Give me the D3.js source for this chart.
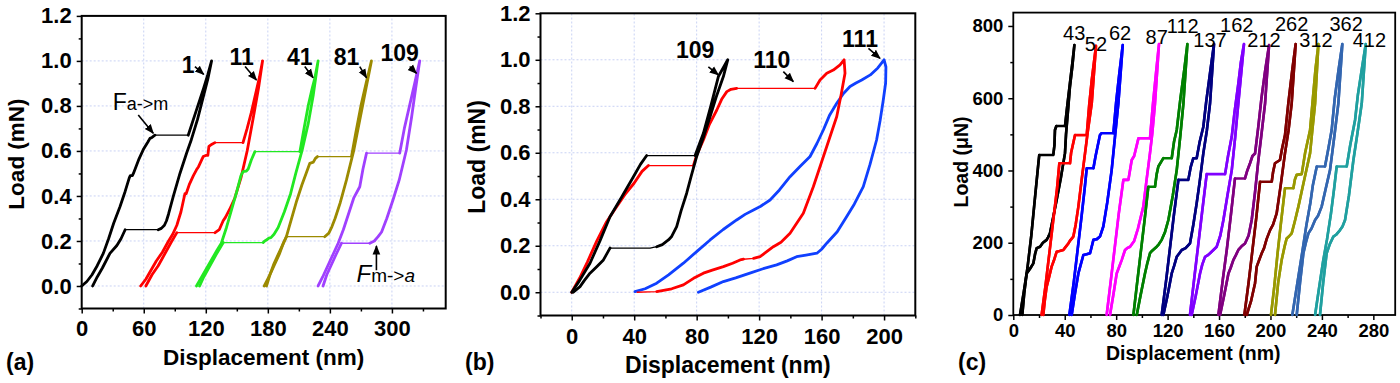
<!DOCTYPE html>
<html>
<head>
<meta charset="utf-8">
<script src="https://cdn.jsdelivr.net/npm/d3@7"></script>
<style>
  body { margin: 0; background: #fff; }
</style>
</head>
<body>
<svg id="fig" width="1400" height="383"></svg>
<script>
// ---------- panel (a): cycles 1, 11, 41, 81, 109 (load mN vs displacement nm)
const cycleA1 = [[0,0],[5,0.02],[10,0.05],[15,0.09],[20.9,0.145],[26,0.21],[31,0.28],[37,0.352],[42,0.42],[46,0.48],[47,0.49],[49,0.49],[50,0.5],[55,0.56],[60,0.61],[64,0.64],[66,0.656],[68,0.66],[70.8,0.67],[103,0.67],[108,0.74],[113,0.81],[118,0.88],[122,0.94],[125.6,1.0],
  [122,0.92],[117,0.83],[112,0.74],[106,0.65],[101.4,0.59],[95,0.5],[88.5,0.397],[84,0.32],[82,0.29],[80,0.27],[77,0.256],[74,0.25],[42,0.25],[38,0.21],[34,0.18],[27.3,0.145],[20,0.08],[15,0.04],[10.6,0]];
const cycleA11 = [[57,0],[62,0.03],[67,0.07],[72,0.11],[78,0.15],[84,0.2],[88,0.23],[92,0.27],[96,0.33],[99.8,0.41],[101,0.41],[104,0.45],[108,0.49],[111,0.516],[113,0.53],[116,0.56],[117.5,0.575],[120,0.58],[122,0.58],[123,0.62],[126,0.63],[128.8,0.637],[156,0.637],[160,0.7],[164,0.77],[168,0.85],[172,0.93],[174.9,1.0],
  [171,0.88],[166,0.75],[160,0.6],[154,0.48],[148,0.39],[143,0.34],[139,0.305],[136.8,0.29],[133,0.25],[129,0.237],[92,0.237],[86,0.19],[80,0.14],[74,0.09],[68,0.05],[62,0]];
const cycleA41 = [[111,0],[116,0.04],[121,0.08],[126,0.12],[131,0.16],[135,0.19],[140,0.26],[145,0.34],[150,0.42],[154,0.49],[156,0.508],[159,0.51],[161,0.52],[164,0.56],[167.5,0.597],[211,0.597],[215,0.7],[219,0.8],[223,0.88],[225.4,0.923],[228.6,1.0],
  [224,0.85],[219,0.72],[213,0.6],[207,0.5],[202,0.41],[196,0.33],[190,0.26],[186,0.23],[183,0.215],[181,0.213],[179,0.205],[177,0.2],[175.5,0.193],[136.9,0.193],[130,0.14],[124,0.09],[118,0.04],[114,0]];
const cycleA81 = [[176.5,0],[181,0.04],[186,0.09],[191,0.14],[195,0.19],[198,0.22],[203,0.3],[208,0.38],[213,0.45],[217,0.5],[220.6,0.545],[224,0.55],[226,0.567],[228,0.575],[260.9,0.575],[265,0.68],[270,0.8],[275,0.9],[280.2,1.0],
  [275,0.88],[269,0.74],[263,0.6],[256,0.47],[250,0.37],[245,0.3],[242,0.264],[239,0.235],[235,0.219],[198,0.219],[192,0.16],[186,0.1],[182,0.05],[178.7,0]];
const cycleA109 = [[228.6,0],[233,0.04],[238,0.09],[243,0.14],[248,0.19],[253,0.25],[258,0.32],[263,0.39],[268.9,0.441],[272,0.52],[275.4,0.59],[307.5,0.59],[312,0.7],[317,0.8],[322,0.9],[326.9,1.0],
  [323,0.88],[319,0.75],[314,0.604],[307,0.47],[301,0.382],[295,0.3],[290,0.24],[286.6,0.219],[283,0.2],[278.6,0.19],[251.2,0.19],[246,0.14],[241,0.09],[237,0.05],[233.4,0]];
const curvesA = [cycleA1, cycleA11, cycleA41, cycleA81, cycleA109];
const colorsA = ["#000000", "#ff0000", "#22e822", "#9c8a00", "#a040ff"];
const labelsA = [
  { text: "1", at: [103, 0.985], arrow: [[109.5, 0.975], [118, 0.94]] },
  { text: "11", at: [154.6, 1.02], arrow: [[158, 0.975], [169, 0.915]] },
  { text: "41", at: [210.9, 1.02], arrow: [[215.7, 0.975], [223.8, 0.925]] },
  { text: "81", at: [256, 1.02], arrow: [[268.9, 0.975], [275.4, 0.925]] },
  { text: "109", at: [307.5, 1.035], arrow: [[317.2, 0.975], [323.7, 0.945]] }
];

// ---------- panel (b): cycles 109, 110, 111
const cycleB109 = [[0,0],[5,0.05],[11.7,0.125],[18,0.22],[24.5,0.325],[32,0.41],[39.5,0.497],[44,0.55],[48,0.588],[79,0.588],[84.3,0.684],[89,0.8],[93.9,0.928],[99.9,1.0],
  [97.1,0.928],[92.5,0.84],[88.6,0.756],[84,0.66],[80,0.584],[76.5,0.5],[73.6,0.426],[70,0.35],[67.2,0.282],[64,0.24],[61.9,0.225],[58,0.205],[54.4,0.196],[50.2,0.19],[24.5,0.19],[22,0.16],[20.3,0.139],[16,0.11],[11.7,0.082],[8,0.05],[5.3,0.024],[1,0]];
const cycleB110 = [[0,0],[5,0.06],[10,0.13],[16,0.22],[22,0.3],[28,0.36],[34,0.42],[40,0.47],[45,0.52],[49.1,0.545],[77.9,0.545],[80,0.59],[84.3,0.655],[88,0.72],[92.9,0.784],[96,0.83],[99.3,0.863],[102,0.873],[105.6,0.877],[155.8,0.877],[159,0.913],[163.3,0.942],[167.5,0.956],[171.8,0.978],[174.4,1.0],
  [175,0.942],[172.5,0.85],[169.7,0.756],[163.3,0.627],[154.7,0.454],[148.3,0.34],[139.8,0.254],[134,0.215],[129.1,0.196],[124,0.17],[120.6,0.153],[116.4,0.146],[110,0.142],[107.8,0.139],[103,0.125],[97.1,0.11],[90,0.095],[84.3,0.082],[78,0.06],[71.5,0.032],[64,0.015],[54.4,0.003],[41.6,0]];
const cycleB111 = [[40.5,0.003],[47,0.015],[54.4,0.039],[62,0.075],[71.5,0.125],[80,0.175],[88.6,0.225],[97,0.27],[105.6,0.311],[111,0.335],[116.4,0.354],[121,0.37],[127,0.397],[133,0.44],[139.8,0.497],[146,0.54],[152.6,0.584],[157,0.64],[161.1,0.698],[165,0.76],[169.7,0.813],[174,0.855],[178.2,0.885],[182,0.9],[185.7,0.913],[191.2,0.935],[196,0.965],[200,1.0],
  [201.2,0.97],[201,0.9],[199.5,0.827],[197.5,0.74],[195.2,0.655],[191,0.55],[186.7,0.454],[181,0.38],[176,0.325],[170,0.26],[163.3,0.211],[160,0.185],[157,0.168],[150,0.16],[144,0.153],[138,0.135],[131.2,0.118],[122,0.1],[114.1,0.082],[105,0.062],[97.1,0.046],[89,0.022],[81.1,0]];
const curvesB = [cycleB111, cycleB110, cycleB109];
const colorsB = ["#1040ff", "#ff0000", "#000000"];
const labelsB = [
  { text: "109", at: [79, 1.042], arrow: [[87.5, 0.97], [93.9, 0.935]] },
  { text: "110", at: [128.1, 1.0], arrow: [[135.5, 0.949], [141.9, 0.906]] },
  { text: "111", at: [184.6, 1.092], arrow: [[190, 1.049], [197.4, 1.006]] }
];

// ---------- panel (c): cycles 43 ... 412 (load uN vs displacement nm)
const cycleC43 = [[5.2,0],[8,60],[11,130],[14,220],[17,330],[19.5,420],[20.2,443],[31.1,443],[32,470],[32.4,512],[33.5,523],[40.2,523],[42,580],[44,640],[46,700],[47.5,747],
  [46,690],[44,630],[42.8,577],[41,500],[40.2,448],[37,380],[33.7,318],[31,270],[28.5,226],[27,215],[25.9,208],[23,200],[20.8,189],[18.2,185],[17,170],[15.6,143],[13,128],[10.4,115],[8.5,60],[7,0]];
const cycleC52 = [[22,0],[25,80],[28,170],[31,260],[34,350],[35.8,420],[44.1,420],[45,450],[48,498],[57.1,498],[59,580],[61,650],[64.3,745],
  [61,586],[58,510],[55.8,448],[53,370],[50.6,300],[48.5,250],[46.7,217],[44,205],[42.8,198],[40,185],[38.9,180],[36,177],[33.7,175],[31.5,150],[29.8,134],[27.5,100],[25.9,78],[24.5,40],[23.3,0]];
const cycleC62 = [[43.6,0],[47,90],[50,180],[53,270],[55.5,350],[57.1,406],[62.3,406],[64,440],[67.4,498],[68.5,503],[77.8,503],[80,590],[82.5,670],[85.1,747],
  [81.7,586],[79,490],[76.5,401],[73,310],[70,245],[67.4,217],[65,210],[62.3,208],[59.7,171],[57,168],[54.5,166],[52.5,140],[50.6,115],[48,60],[45.4,0]];
const cycleC87 = [[72.6,0],[76,100],[79,190],[82,280],[85.6,374],[89.5,374],[92.1,429],[94,440],[97.3,489],[106.3,489],[108.5,580],[111,670],[113.3,750],
  [110.2,586],[108,500],[106.3,448],[103.5,370],[101.1,300],[97,240],[94,205],[90.8,189],[88.5,185],[86.9,180],[84.3,152],[82,130],[80.4,115],[78,60],[75.2,0]];
const cycleC112 = [[93.4,0],[96,80],[99,170],[102,260],[105,355],[110.2,355],[111.5,390],[112.8,411],[116.7,434],[123.2,434],[125,480],[127.1,512],[130,600],[133,680],[135.4,750],
  [132.3,586],[130,500],[127.1,401],[124,330],[120.6,263],[118,230],[115.4,208],[113,195],[111.5,189],[108,178],[106.3,171],[104,140],[102.4,115],[99,55],[96,0]];
const cycleC137 = [[115.4,0],[119,100],[122,190],[125,280],[128.4,374],[136.1,374],[138,410],[140,434],[142.6,434],[145,480],[147.8,521],[150,590],[153,670],[156.1,750],
  [153,586],[150.5,510],[147.8,448],[145,370],[142.6,309],[140,250],[137.4,198],[134,185],[131,180],[129,170],[127.1,161],[125,135],[123.2,115],[120,55],[116.7,0]];
const cycleC162 = [[137.4,0],[141,110],[144,200],[147,290],[150.4,390],[164.7,390],[167,440],[169.9,494],[172,560],[175,640],[177,700],[179.4,750],
  [175,586],[172.5,490],[169.9,401],[166.5,330],[163.4,263],[161,220],[158.2,189],[155,178],[153,171],[151,165],[149.1,161],[147,140],[145.2,115],[142,55],[138.7,0]];
const cycleC212 = [[159.5,0],[163,100],[166,180],[169,270],[172.4,378],[180.2,378],[182,400],[184.1,420],[186,440],[188,447],[190.5,520],[193,600],[196,680],[198.9,747],
  [195.8,586],[193,500],[190.6,429],[188,340],[185.4,263],[183,220],[180.2,198],[177.5,190],[175,180],[173,165],[171.1,152],[169,130],[167.3,115],[164,55],[160.8,0]];
const cycleC262 = [[179.7,0],[183,90],[186,180],[189,270],[191.9,369],[201,369],[202,395],[203.5,420],[207.4,429],[209,460],[211.3,498],[214,590],[217,680],[219.6,750],
  [216.5,586],[214,510],[211.3,448],[208,360],[204.8,281],[202,250],[199.7,235],[197,210],[195,185],[193.2,171],[191,150],[189.3,134],[188,88],[185,40],[181.5,0]];
const cycleC312 = [[200.4,0],[203,80],[205.5,170],[208,250],[211.3,351],[217.8,351],[219,375],[220.4,388],[224.3,390],[227,450],[230.8,512],[233,600],[235,680],[237.3,750],
  [234.7,586],[232.5,510],[230.8,448],[226,370],[221.7,300],[219,260],[216.5,226],[214.5,218],[212.6,212],[211,190],[208.7,152],[206,90],[203.5,0]];
const cycleC362 = [[217,0],[221,90],[225,180],[228,250],[231,310],[233,360],[236,411],[242.4,411],[245,460],[247.6,512],[250,600],[253,680],[255.9,750],
  [252.8,586],[249.5,490],[246.3,401],[243,350],[239.8,300],[237,275],[234.7,263],[232,240],[229.5,226],[227.5,200],[225.6,171],[223,90],[220.4,0]];
const cycleC412 = [[234.7,0],[238,80],[241,150],[244,210],[247,280],[249.5,350],[251.5,411],[259.3,411],[262,470],[265.8,540],[268,610],[271,680],[274.1,750],
  [271,586],[267.5,500],[264.5,429],[261,330],[258,263],[256,245],[254.1,235],[251,222],[248.9,217],[246,195],[243.7,171],[241,90],[238.5,0]];
const curvesC = [cycleC43, cycleC52, cycleC62, cycleC87, cycleC112, cycleC137, cycleC162, cycleC212, cycleC262, cycleC312, cycleC362, cycleC412];
const colorsC = ["#000000", "#ff0000", "#0000ff", "#ff00ff", "#008000", "#000080", "#8000ff", "#800080", "#800000", "#999900", "#3366b0", "#20a0a0"];
const namesC = ["43", "52", "62", "87", "112", "137", "162", "212", "262", "312", "362", "412"];
const labelPosC = [[47.4,782],[64.3,750],[83,780],[111.5,769],[131.8,800],[153,763],[173.8,803],[195,763],[216.5,807],[235.4,761],[258.8,805],[276.9,761]];

const FONT = "'Liberation Sans', Arial, sans-serif";
const svg = d3.select("#fig");
svg.append("rect").attr("width", 1400).attr("height", 383).attr("fill", "#fff");

svg.append("defs").append("marker")
    .attr("id", "head")
    .attr("viewBox", "0 0 10 10")
    .attr("refX", 9).attr("refY", 5)
    .attr("markerWidth", 6).attr("markerHeight", 6)
    .attr("orient", "auto")
    .append("path").attr("d", "M0,1L10,5L0,9Z").attr("fill", "#000");

function drawAxes(g, x, y, cfg) {
    const [x0, x1] = x.range();
    const [y0, y1] = y.range();

    if (cfg.grid) {
        const [dx0, dx1] = x.domain();
        const [dy0, dy1] = y.domain();
        g.append("g").selectAll("line")
            .data(cfg.xMajor.filter((v) => v > dx0 + 1e-6 && v < dx1))
            .join("line")
            .attr("x1", (d) => x(d)).attr("x2", (d) => x(d))
            .attr("y1", y0).attr("y2", y1)
            .attr("stroke", "#c9d2f4").attr("stroke-width", 1).attr("stroke-dasharray", "2,2");
        g.append("g").selectAll("line")
            .data(cfg.yMajor.filter((v) => v > dy0 && v < dy1 - 1e-6))
            .join("line")
            .attr("x1", x0).attr("x2", x1)
            .attr("y1", (d) => y(d)).attr("y2", (d) => y(d))
            .attr("stroke", "#c9d2f4").attr("stroke-width", 1).attr("stroke-dasharray", "2,2");
    }

    const style = (s) => {
        s.select(".domain").remove();
        s.attr("font-family", FONT).attr("font-size", cfg.tickFont).attr("font-weight", "bold");
        s.selectAll("line").attr("stroke", "#000").attr("stroke-width", 1.5);
        s.selectAll("text").attr("fill", "#000");
    };

    g.append("g").attr("transform", `translate(0,${y0})`)
        .call(d3.axisBottom(x).tickValues(cfg.xMinor).tickSize(3).tickFormat(""))
        .call(style);
    g.append("g").attr("transform", `translate(0,${y0})`)
        .call(d3.axisBottom(x).tickValues(cfg.xMajor).tickSize(5).tickPadding(cfg.xPad).tickFormat(d3.format("d")))
        .call(style);
    g.append("g").attr("transform", `translate(${x0},0)`)
        .call(d3.axisLeft(y).tickValues(cfg.yMinor).tickSize(3).tickFormat(""))
        .call(style);
    g.append("g").attr("transform", `translate(${x0},0)`)
        .call(d3.axisLeft(y).tickValues(cfg.yMajor).tickSize(5).tickPadding(cfg.yPad).tickFormat(cfg.yFormat))
        .call(style);

    g.append("rect")
        .attr("x", x0).attr("y", y1)
        .attr("width", x1 - x0).attr("height", y0 - y1)
        .attr("fill", "none").attr("stroke", "#000").attr("stroke-width", cfg.frameWidth);

    g.append("text")
        .attr("x", (x0 + x1) / 2 + cfg.xTitleDx).attr("y", cfg.xTitleY)
        .attr("text-anchor", "middle")
        .attr("font-family", FONT).attr("font-weight", "bold").attr("font-size", cfg.titleFont)
        .text("Displacement (nm)");
    g.append("text")
        .attr("transform", `translate(${cfg.yTitleX},${cfg.yTitleMid}) rotate(-90)`)
        .attr("text-anchor", "middle")
        .attr("font-family", FONT).attr("font-weight", "bold").attr("font-size", cfg.titleFont)
        .text(cfg.yTitle);
    g.append("text")
        .attr("x", cfg.tagX).attr("y", cfg.tagY)
        .attr("font-family", FONT).attr("font-weight", "bold").attr("font-size", 23)
        .text(cfg.tag);
}

// thick strokes for the steep branches, thin ones for the flat plateaus
function drawCurve(g, pts, x, y, color, thick, thin) {
    const line = d3.line().x((d) => x(d[0])).y((d) => y(d[1]));
    g.append("path").attr("d", line(pts))
        .attr("fill", "none").attr("stroke", color).attr("stroke-width", thin)
        .attr("stroke-linejoin", "round");
    const runs = [];
    let cur = null;
    for (let i = 0; i < pts.length - 1; i++) {
        const dxp = Math.abs(x(pts[i + 1][0]) - x(pts[i][0]));
        const dyp = Math.abs(y(pts[i + 1][1]) - y(pts[i][1]));
        if (dyp < 1.5 && dxp > 6) { cur = null; continue; }
        if (!cur) { cur = [pts[i]]; runs.push(cur); }
        cur.push(pts[i + 1]);
    }
    runs.forEach((r) => {
        g.append("path").attr("d", line(r))
            .attr("fill", "none").attr("stroke", color).attr("stroke-width", thick)
            .attr("stroke-linejoin", "round").attr("stroke-linecap", "round");
    });
}

function drawLabels(g, labels, x, y, size) {
    labels.forEach((l) => {
        g.append("text")
            .attr("x", x(l.at[0])).attr("y", y(l.at[1]))
            .attr("dy", "0.36em").attr("text-anchor", "middle")
            .attr("font-family", FONT).attr("font-weight", "bold").attr("font-size", size)
            .text(l.text);
        g.append("line")
            .attr("x1", x(l.arrow[0][0])).attr("y1", y(l.arrow[0][1]))
            .attr("x2", x(l.arrow[1][0])).attr("y2", y(l.arrow[1][1]))
            .attr("stroke", "#000").attr("stroke-width", 1.6)
            .attr("marker-end", "url(#head)");
    });
}

// ---------- (a)
const xA = d3.scaleLinear().domain([0, 352]).range([81.7, 445.7]);
const yA = d3.scaleLinear().domain([-0.1, 1.2]).range([308.5, 15.9]);
const gA = svg.append("g");
drawAxes(gA, xA, yA, {
    grid: true,
    xMajor: d3.range(0, 301, 60), xMinor: d3.range(30, 352, 60),
    yMajor: d3.range(0, 1.21, 0.2).map((v) => +v.toFixed(1)), yMinor: [-0.1, 0.1, 0.3, 0.5, 0.7, 0.9, 1.1],
    yFormat: d3.format(".1f"), tickFont: 22, xPad: 7, yPad: 5, frameWidth: 2,
    titleFont: 22.5, xTitleDx: 0, xTitleY: 365, yTitle: "Load (mN)", yTitleX: 24, yTitleMid: 154,
    tag: "(a)", tagX: 6, tagY: 370
});
const curveLayerA = gA.append("g");
curvesA.forEach((c, i) => drawCurve(curveLayerA, c, xA, yA, colorsA[i], 2.8, 1.3));
drawLabels(gA, labelsA, xA, yA, 23);

const fam = gA.append("text").attr("x", xA(30)).attr("y", yA(0.782)).attr("font-family", FONT);
fam.append("tspan").attr("font-size", 23).text("F");
fam.append("tspan").attr("font-size", 18).text("a->m");
gA.append("line")
    .attr("x1", xA(54.7)).attr("y1", yA(0.76)).attr("x2", xA(69.2)).attr("y2", yA(0.679))
    .attr("stroke", "#000").attr("stroke-width", 1.6).attr("marker-end", "url(#head)");
const fma = gA.append("text").attr("x", xA(265.7)).attr("y", yA(0.019)).attr("font-family", FONT);
fma.append("tspan").attr("font-size", 24).attr("font-style", "italic").text("F");
fma.append("tspan").attr("font-size", 19).text("m->");
fma.append("tspan").attr("font-size", 19).attr("font-style", "italic").text("a");
gA.append("line")
    .attr("x1", xA(285)).attr("y1", yA(0.07)).attr("x2", xA(285)).attr("y2", yA(0.178))
    .attr("stroke", "#000").attr("stroke-width", 1.6).attr("marker-end", "url(#head)");

// ---------- (b)
const xB = d3.scaleLinear().domain([-20, 220]).range([540.5, 915.3]);
const yB = d3.scaleLinear().domain([-0.1, 1.2]).range([315.5, 13.3]);
const gB = svg.append("g");
drawAxes(gB, xB, yB, {
    grid: true,
    xMajor: d3.range(0, 201, 40), xMinor: d3.range(-20, 221, 40),
    yMajor: d3.range(0, 1.21, 0.2).map((v) => +v.toFixed(1)), yMinor: [-0.1, 0.1, 0.3, 0.5, 0.7, 0.9, 1.1],
    yFormat: d3.format(".1f"), tickFont: 22, xPad: 8, yPad: 5, frameWidth: 2,
    titleFont: 23, xTitleDx: 0, xTitleY: 373, yTitle: "Load (mN)", yTitleX: 485, yTitleMid: 157,
    tag: "(b)", tagX: 465, tagY: 370
});
const curveLayerB = gB.append("g");
curvesB.forEach((c, i) => drawCurve(curveLayerB, c, xB, yB, colorsB[i], 2.8, 1.3));
drawLabels(gB, labelsB, xB, yB, 23);

// ---------- (c)
const xC = d3.scaleLinear().domain([0, 297]).range([1013.3, 1395.2]);
const yC = d3.scaleLinear().domain([0, 837]).range([315, 12.6]);
const gC = svg.append("g");
drawAxes(gC, xC, yC, {
    grid: false,
    xMajor: d3.range(0, 281, 40), xMinor: d3.range(20, 297, 40),
    yMajor: d3.range(0, 801, 200), yMinor: d3.range(100, 837, 200),
    yFormat: d3.format("d"), tickFont: 18.5, xPad: 4, yPad: 5, frameWidth: 1.8,
    titleFont: 19.5, xTitleDx: -11, xTitleY: 360, yTitle: "Load (\u03bcN)", yTitleX: 968, yTitleMid: 162,
    tag: "(c)", tagX: 958, tagY: 370
});
const curveLayerC = gC.append("g");
curvesC.forEach((c, i) => drawCurve(curveLayerC, c, xC, yC, colorsC[i], 2.6, 2.6));
gC.append("g").selectAll("text")
    .data(namesC)
    .join("text")
    .attr("x", (d, i) => xC(labelPosC[i][0]))
    .attr("y", (d, i) => yC(labelPosC[i][1]))
    .attr("dy", "0.36em").attr("text-anchor", "middle")
    .attr("font-family", FONT).attr("font-size", 20)
    .text((d) => d);
</script>
</body>
</html>
